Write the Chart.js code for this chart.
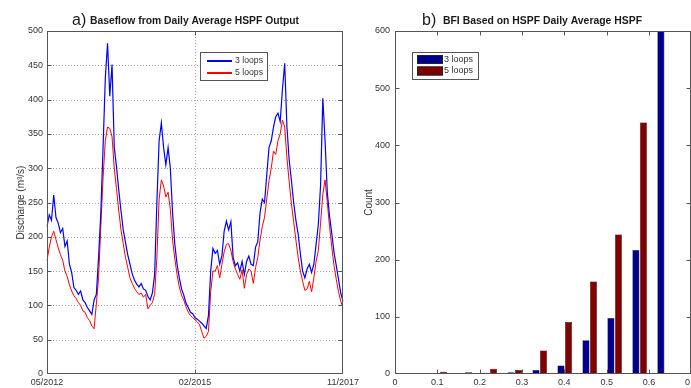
<!DOCTYPE html>
<html>
<head>
<meta charset="utf-8">
<script src="https://cdn.jsdelivr.net/npm/chart.js@4.4.1/dist/chart.umd.min.js"></script>
<style>
  html, body { margin: 0; padding: 0; background: #fff; overflow: hidden; width: 691px; height: 388px; }
  #left  { position: absolute; left: 0;     top: 0; width: 370px; height: 388px; }
  #right { position: absolute; left: 340px; top: 0; width: 380px; height: 388px; }
</style>
</head>
<body>
<canvas id="left" width="370" height="388"></canvas>
<canvas id="right" width="380" height="388"></canvas>
<script>
/* ---- panel a) : baseflow series, sampled twice a month ---- */
const dates = [
  '2012-05-01','2012-05-16','2012-06-01','2012-06-16','2012-07-01','2012-07-16','2012-08-01','2012-08-16',
  '2012-09-01','2012-09-16','2012-10-01','2012-10-16','2012-11-01','2012-11-16','2012-12-01','2012-12-16',
  '2013-01-01','2013-01-16','2013-02-01','2013-02-16','2013-03-01','2013-03-16','2013-04-01','2013-04-16',
  '2013-05-01','2013-05-16','2013-06-01','2013-06-16','2013-07-01','2013-07-16','2013-08-01','2013-08-16',
  '2013-09-01','2013-09-16','2013-10-01','2013-10-16','2013-11-01','2013-11-16','2013-12-01','2013-12-16',
  '2014-01-01','2014-01-16','2014-02-01','2014-02-16','2014-03-01','2014-03-16','2014-04-01','2014-04-16',
  '2014-05-01','2014-05-16','2014-06-01','2014-06-16','2014-07-01','2014-07-16','2014-08-01','2014-08-16',
  '2014-09-01','2014-09-16','2014-10-01','2014-10-16','2014-11-01','2014-11-16','2014-12-01','2014-12-16',
  '2015-01-01','2015-01-16','2015-02-01','2015-02-16','2015-03-01','2015-03-16','2015-04-01','2015-04-16',
  '2015-05-01','2015-05-16','2015-06-01','2015-06-16','2015-07-01','2015-07-16','2015-08-01','2015-08-16',
  '2015-09-01','2015-09-16','2015-10-01','2015-10-16','2015-11-01','2015-11-16','2015-12-01','2015-12-16',
  '2016-01-01','2016-01-16','2016-02-01','2016-02-16','2016-03-01','2016-03-16','2016-04-01','2016-04-16',
  '2016-05-01','2016-05-16','2016-06-01','2016-06-16','2016-07-01','2016-07-16','2016-08-01','2016-08-16',
  '2016-09-01','2016-09-16','2016-10-01','2016-10-16','2016-11-01','2016-11-16','2016-12-01','2016-12-16',
  '2017-01-01','2017-01-16','2017-02-01','2017-02-16','2017-03-01','2017-03-16','2017-04-01','2017-04-16',
  '2017-05-01','2017-05-16','2017-06-01','2017-06-16','2017-07-01','2017-07-16','2017-08-01','2017-08-16',
  '2017-09-01','2017-09-16','2017-10-01','2017-10-16','2017-11-01'
];

const loops3 = [
  215, 232, 224, 261, 228, 220, 206, 212, 186, 194, 160, 148, 126, 122, 116, 121, 108, 104, 97, 92,
  87, 108, 116, 170, 235, 330, 431, 482, 405, 451, 330, 302, 268, 238, 210, 192, 174, 160, 146, 137,
  131, 127, 132, 124, 122,
  113, 108, 118, 145, 250, 340, 366, 330, 305, 330, 300, 235, 189, 160, 140, 124, 115, 103, 97, 90,
  88, 82, 80, 77, 74, 70, 66, 85, 150, 183, 176, 180, 160, 172, 208, 223, 210, 222, 170, 158,
  162, 150, 164,
  145, 164, 172, 160, 158, 185, 193, 235, 255, 250, 290, 330, 340, 360, 375, 380, 368, 415, 453, 360,
  312, 282, 250, 224, 204, 175, 150, 140, 153, 160, 148, 160, 189, 218, 275, 402, 340, 265, 230, 205,
  177, 158, 138, 118, 106
];

const loops5 = [
  165, 185, 200, 208, 196, 184, 174, 166, 150, 142, 130, 121, 114, 110, 104, 100, 92, 90, 82, 78,
  70, 66, 102, 140, 215, 286, 340, 360, 358, 346, 300, 270, 238, 210, 190, 170, 155, 140, 132, 125,
  120, 116, 118, 112, 116,
  95, 100, 104, 116, 170, 255, 283, 274, 258, 265, 240, 195, 168, 145, 127, 115, 108, 98, 90, 85,
  82, 79, 76, 72, 62, 52, 55, 62, 120, 150, 150, 158, 140, 160, 178, 189, 190, 180, 164, 153,
  145, 138, 152,
  125, 145, 153, 150, 132, 155, 170, 195, 215, 228, 255, 282, 300, 325, 320, 340, 350, 370, 360, 315,
  280, 248, 222, 195, 170, 150, 135, 122, 124, 135, 120, 140, 164, 180, 220, 262, 283, 250, 215, 185,
  158, 138, 120, 106, 96
];

const xTickDates  = ['2012-05-01', '2015-02-01', '2017-11-01'];
const xTickLabels = ['05/2012', '02/2015', '11/2017'];

/* ---- panel b) : BFI histogram ---- */
const bfiBins     = [0.106, 0.165, 0.224, 0.283, 0.342, 0.401, 0.460, 0.519, 0.578, 0.637];
const bfiCounts3  = [0, 0, 2, 3, 7, 15, 59, 98, 217, 600];
const bfiCounts5  = [4, 3, 9, 7, 41, 91, 162, 244, 440, 0];

const FONT = "'Liberation Sans', Arial, sans-serif";
Chart.defaults.font.family = FONT;
Chart.defaults.font.size = 9;
Chart.defaults.color = '#333';

const BLUE = '#0000ff', RED = '#ff0000';
const NAVY = '#00008f', MAROON = '#800000';
const SERIES_COLOURS = { left: [BLUE, RED], right: [NAVY, MAROON] };

// matlab-ish axes: dotted grid, framed box, inward ticks
const matlabAxes = {
  id: 'matlabAxes',
  beforeDatasetsDraw(chart, args, o) {
    if (!o.grid) return;
    const { ctx, chartArea: a, scales: { x, y } } = chart;
    ctx.save();
    ctx.strokeStyle = '#a4a4a4';
    ctx.lineWidth = 1;
    ctx.setLineDash([1, 2]);
    ctx.beginPath();
    y.ticks.forEach((t, i) => {
      const py = Math.round(y.getPixelForTick(i)) + 0.5;
      if (py <= a.top + 1 || py >= a.bottom - 1) return;
      ctx.moveTo(a.left, py); ctx.lineTo(a.right, py);
    });
    x.ticks.forEach((t, i) => {
      if (!t.label) return;
      const px = Math.round(x.getPixelForTick(i)) + 0.5;
      if (px <= a.left + 1 || px >= a.right - 1) return;
      ctx.moveTo(px, a.top); ctx.lineTo(px, a.bottom);
    });
    ctx.stroke();
    ctx.restore();
  },
  afterDraw(chart, args, o) {
    const { ctx, chartArea: a, scales: { x, y } } = chart;
    const L = Math.round(a.left) + 0.5, R = Math.round(a.right) - 0.5;
    const T = Math.round(a.top) + 0.5,  B = Math.round(a.bottom) - 0.5;
    ctx.save();
    ctx.strokeStyle = '#555';
    ctx.lineWidth = 1;
    ctx.strokeRect(L, T, R - L, B - T);
    ctx.beginPath();
    x.ticks.forEach((t, i) => {
      if (!t.label) return;
      const px = Math.round(x.getPixelForTick(i)) + 0.5;
      if (px <= L + 1 || px >= R - 1) return;
      ctx.moveTo(px, B); ctx.lineTo(px, B - o.tick);
      ctx.moveTo(px, T); ctx.lineTo(px, T + o.tick);
    });
    y.ticks.forEach((t, i) => {
      const py = Math.round(y.getPixelForTick(i)) + 0.5;
      if (py <= T + 1 || py >= B - 1) return;
      ctx.moveTo(L, py); ctx.lineTo(L + o.tick, py);
      ctx.moveTo(R, py); ctx.lineTo(R - o.tick, py);
    });
    ctx.stroke();
    ctx.restore();
  }
};

const boxLegend = {
  id: 'boxLegend',
  afterDraw(chart, args, o) {
    const { ctx } = chart;
    const colours = SERIES_COLOURS[chart.canvas.id];
    ctx.save();
    ctx.fillStyle = '#fff';
    ctx.fillRect(o.x, o.y, o.w, o.h);
    ctx.strokeStyle = '#555';
    ctx.lineWidth = 1;
    ctx.strokeRect(o.x + 0.5, o.y + 0.5, o.w, o.h);
    chart.data.datasets.forEach((ds, k) => {
      const cy = o.y + o.rowTop + k * o.rowGap;
      ctx.fillStyle = colours[k];
      if (o.kind === 'line') {
        ctx.fillRect(o.x + o.symX, Math.round(cy) - 1, o.symW, 2);
      } else {
        ctx.fillRect(o.x + o.symX, cy - o.symH / 2, o.symW, o.symH);
        ctx.strokeStyle = '#222';
        ctx.strokeRect(o.x + o.symX + 0.5, cy - o.symH / 2 + 0.5, o.symW - 1, o.symH - 1);
      }
      ctx.fillStyle = '#333';
      ctx.font = '9px ' + FONT;
      ctx.textBaseline = 'middle';
      ctx.fillText(ds.label, o.x + o.textX, cy, o.textW);
    });
    ctx.restore();
  }
};

const panelTitle = {
  id: 'panelTitle',
  afterDraw(chart, args, o) {
    const { ctx } = chart;
    ctx.save();
    ctx.fillStyle = '#1a1a1a';
    ctx.textBaseline = 'alphabetic';
    ctx.font = '16px ' + FONT;
    ctx.fillText(o.tag, o.tagX, o.baseline);
    ctx.font = 'bold 11px ' + FONT;
    ctx.fillText(o.text, o.textX, o.baseline - 1, o.textW);
    ctx.restore();
  }
};

// ── a) line chart ───────────────────────────────────────────
new Chart(document.getElementById('left'), {
  type: 'line',
  data: {
    labels: dates,
    datasets: [
      { label: '3 loops', data: loops3, borderColor: BLUE, borderWidth: 1.2, pointRadius: 0, tension: 0 },
      { label: '5 loops', data: loops5, borderColor: RED,  borderWidth: 1,   pointRadius: 0, tension: 0 }
    ]
  },
  options: {
    responsive: false,
    animation: false,
    events: [],
    layout: { padding: { left: 0, right: 27, top: 31, bottom: 0 } },
    scales: {
      x: {
        type: 'category',
        offset: false,
        grid: { display: false, drawTicks: false },
        border: { display: false },
        ticks: {
          autoSkip: false, maxRotation: 0, minRotation: 0, padding: 3,
          font: { size: 9 },
          callback(value) {
            const k = xTickDates.indexOf(this.getLabelForValue(value));
            return k >= 0 ? xTickLabels[k] : '';
          }
        },
        afterFit: s => { s.height = 14; }
      },
      y: {
        min: 0, max: 500,
        grid: { display: false, drawTicks: false },
        border: { display: false },
        ticks: { stepSize: 50, padding: 4, font: { size: 9 } },
        title: { display: true, text: 'Discharge (m³/s)', font: { size: 10 }, padding: { top: 15, bottom: 0 } },
        afterFit: s => { s.width = 47; }
      }
    },
    plugins: {
      legend: { display: false },
      tooltip: { enabled: false },
      matlabAxes: { grid: true, tick: 4 },
      boxLegend: { kind: 'line', x: 200, y: 52, w: 67, h: 28, rowTop: 9, rowGap: 12, symX: 7, symW: 25, textX: 35, textW: 28 },
      panelTitle: { tag: 'a)', tagX: 72, textX: 90, textW: 209, baseline: 25, text: 'Baseflow from Daily Average HSPF Output' }
    }
  },
  plugins: [matlabAxes, boxLegend, panelTitle]
});

// ── b) histogram ────────────────────────────────────────────
new Chart(document.getElementById('right'), {
  type: 'bar',
  data: {
    datasets: [
      { label: '3 loops', data: bfiBins.map((c, k) => ({ x: c, y: bfiCounts3[k] })),
        backgroundColor: NAVY, borderColor: '#000', borderWidth: 0.5 },
      { label: '5 loops', data: bfiBins.map((c, k) => ({ x: c, y: bfiCounts5[k] })),
        backgroundColor: MAROON, borderColor: '#000', borderWidth: 0.5 }
    ]
  },
  options: {
    responsive: false,
    animation: false,
    events: [],
    categoryPercentage: 0.6,
    barPercentage: 0.94,
    layout: { padding: { left: 0, right: 28.7, top: 31, bottom: 0 } },
    scales: {
      x: {
        type: 'linear', min: 0, max: 0.7, offset: false,
        grid: { display: false, drawTicks: false },
        border: { display: false },
        ticks: { stepSize: 0.1, padding: 3, maxRotation: 0, font: { size: 9 } },
        afterFit: s => { s.height = 14; }
      },
      y: {
        min: 0, max: 600,
        grid: { display: false, drawTicks: false },
        border: { display: false },
        ticks: { stepSize: 100, padding: 5, font: { size: 9 } },
        title: { display: true, text: 'Count', font: { size: 10 }, padding: { top: 23, bottom: 0 } },
        afterFit: s => { s.width = 55; }
      }
    },
    plugins: {
      legend: { display: false },
      tooltip: { enabled: false },
      matlabAxes: { grid: false, tick: 4 },
      boxLegend: { kind: 'box', x: 72, y: 52, w: 66, h: 27, rowTop: 7.5, rowGap: 11.5, symX: 5, symW: 26, symH: 9, textX: 32, textW: 30 },
      panelTitle: { tag: 'b)', tagX: 82, textX: 103, textW: 199, baseline: 25, text: 'BFI Based on HSPF Daily Average HSPF' }
    }
  },
  plugins: [matlabAxes, boxLegend, panelTitle]
});
</script>
</body>
</html>
